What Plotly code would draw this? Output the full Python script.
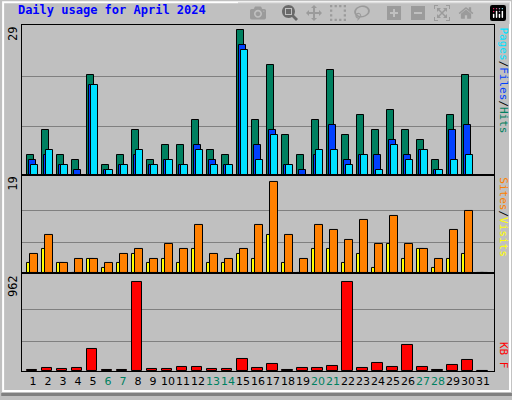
import plotly.graph_objects as go
from plotly.subplots import make_subplots

days = list(range(1, 32))
weekend = [6, 7, 13, 14, 20, 21, 27, 28]

hits = [4, 9, 4, 3, 20, 2, 4, 9, 3, 6, 6, 11, 5, 4, 29, 11, 22, 8, 4, 11, 21, 8, 12, 9, 13, 9, 7, 3, 12, 20, 0]
files = [3, 4, 2, 1, 18, 1, 2, 4, 2, 3, 2, 6, 3, 2, 26, 6, 9, 2, 1, 4, 10, 3, 4, 4, 7, 4, 5, 1, 9, 10, 0]
pages = [2, 5, 2, 0, 18, 1, 2, 5, 2, 3, 2, 5, 2, 2, 25, 3, 8, 2, 0, 5, 5, 2, 4, 1, 6, 3, 5, 1, 3, 4, 0]
visits = [2, 5, 2, 0, 3, 1, 2, 4, 2, 3, 2, 5, 2, 2, 4, 3, 8, 2, 0, 5, 5, 2, 4, 1, 6, 3, 5, 1, 3, 4, 0]
sites = [4, 8, 2, 3, 3, 2, 4, 5, 3, 6, 5, 10, 4, 3, 5, 10, 19, 8, 3, 10, 9, 7, 11, 6, 12, 6, 5, 3, 9, 13, 0]
kbytes = [14, 35, 25, 35, 235, 14, 14, 962, 25, 25, 45, 45, 25, 25, 130, 35, 77, 12, 35, 35, 56, 962, 35, 88, 45, 277, 45, 12, 67, 120, 0]

FONT = "DejaVu Sans Mono"
BG = "#c0c0c0"

fig = make_subplots(rows=3, cols=1, shared_xaxes=True, vertical_spacing=0,
                    row_heights=[153, 100, 100])

def bars(y, color, offset, width, row):
    fig.add_trace(go.Bar(x=days, y=y, marker=dict(color=color, line=dict(color="black", width=1)),
                         offset=offset, width=width, showlegend=False), row=row, col=1)

bars(hits, "#008060", -0.42, 0.5, 1)
bars(files, "#0040ff", -0.28, 0.5, 1)
bars(pages, "#00e0ff", -0.15, 0.5, 1)
bars(visits, "#ffff00", -0.42, 0.5, 2)
bars(sites, "#ff8000", -0.17, 0.5, 2)
bars(kbytes, "#ff0000", -0.42, 0.72, 3)

grid = dict(showgrid=True, gridcolor="#808080", gridwidth=1, ticks="", showticklabels=False,
            showline=True, linecolor="black", mirror=True, zeroline=False)
fig.update_yaxes(grid, range=[0, 30.0], tickvals=[9.7, 19.7], row=1, col=1)
fig.update_yaxes(grid, range=[0, 20.5], tickvals=[6.3, 13], row=2, col=1)
fig.update_yaxes(grid, range=[0, 1054], tickvals=[312, 656], row=3, col=1)

ticktext = [f'<span style="color:#008060">{d}</span>' if d in weekend else str(d) for d in days]
fig.update_xaxes(range=[0.27, 31.73], showgrid=False, showline=True, linecolor="black", mirror=True,
                 ticks="", zeroline=False)
fig.update_xaxes(tickvals=days, ticktext=ticktext, tickangle=0,
                 tickfont=dict(family="DejaVu Sans", size=11, color="black"), row=3, col=1)

small = dict(family=FONT, size=12, color="black")
side = dict(family=FONT, size=11, color="black")
ann = [
    dict(x=0, y=1, xref="paper", yref="paper", text="29", textangle=-90,
         xanchor="right", yanchor="top", font=small, showarrow=False),
    dict(x=0, y=0.567, xref="paper", yref="paper", text="19", textangle=-90,
         xanchor="right", yanchor="top", font=small, showarrow=False),
    dict(x=0, y=0.283, xref="paper", yref="paper", text="962", textangle=-90,
         xanchor="right", yanchor="top", font=small, showarrow=False),
    dict(x=1.0, y=1, xref="paper", yref="paper", textangle=90, xanchor="left", yanchor="top", xshift=1,
         text='<span style="color:#00e0ff">Pages</span>/<span style="color:#0040ff">Files</span>/<span style="color:#008060">Hits</span>',
         font=side, showarrow=False),
    dict(x=1.0, y=0.567, xref="paper", yref="paper", textangle=90, xanchor="left", yanchor="top", xshift=1,
         text='<span style="color:#ff8000">Sites</span>/<span style="color:#ffff00">Visits</span>',
         font=side, showarrow=False),
    dict(x=1.0, y=0, xref="paper", yref="paper", textangle=90, xanchor="left", yanchor="bottom", xshift=1,
         text='<span style="color:#ff0000">KB F</span>', font=side, showarrow=False),
]

fig.update_layout(
    width=512, height=400, barmode="overlay", bargap=0,
    margin=dict(l=22, r=18, t=25, b=22),
    paper_bgcolor=BG, plot_bgcolor=BG,
    title=dict(text="<b>Daily usage for April 2024</b>", x=0.035, xanchor="left", y=0.985, yanchor="top",
               font=dict(family=FONT, size=12, color="#0000ff")),
    annotations=ann,
    shapes=[dict(type="rect", xref="paper", yref="paper", x0=-0.04, x1=1.034, y0=-0.058, y1=1.066,
                 line=dict(color="white", width=2)),
            dict(type="line", xref="paper", yref="paper", x0=-0.044, x1=1.038, y0=-0.068, y1=-0.068,
                 line=dict(color="#808080", width=3))],
)

fig.write_html("out.html", post_script="document.body.style.margin='0';")
